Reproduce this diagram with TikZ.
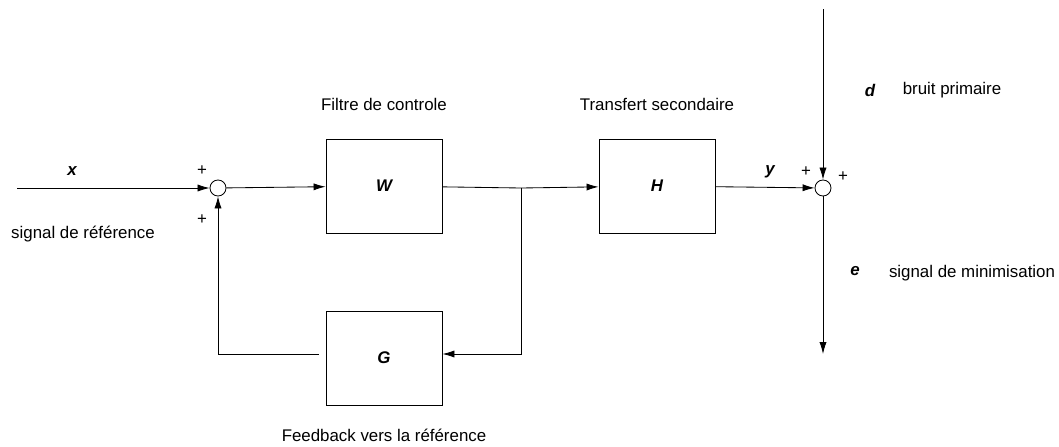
\documentclass[tikz,border=0pt]{standalone}
\usepackage{fontspec}
\setmainfont{Liberation Sans}
\usetikzlibrary{calc, arrows.meta}

\begin{document}
\begin{tikzpicture}[>={Latex[length=0.3cm,width=0.18cm]}, x=0.025cm, y=-0.025cm,
    line width=0.6pt, font=\fontsize{12}{14}\selectfont,
    bloc/.style={draw, minimum width=2.9cm, minimum height=2.35cm, inner sep=0pt},
    somme/.style={draw, circle, minimum size=0.4cm, inner sep=0pt},
    var/.style={font=\fontsize{12}{14}\selectfont\bfseries\itshape}]
        \useasboundingbox (0,0) rectangle (1059,447);

        % the blocks and the summing points
        \node[bloc] (boxW) at (384,186) {};
        \node[bloc] (boxH) at (657,186) {};
        \node[bloc] (boxG) at (384,358) {};
        \node[somme] (sumin) at (218,188) {};
        \node[somme] (sumout) at (823,188) {};
        \coordinate (in) at (17,188);
        \coordinate (branch) at (521,188);
        \coordinate (dist) at (823,9);
        \coordinate (err) at (823,354);

        % the arrows
        \draw[->] (in) -- (sumin);
        \draw[->] (sumin) -- (boxW);
        \draw (boxW) -- (branch);
        \draw[->] (branch) -- (boxH);
        \draw[->] (boxH) -- (sumout);
        \draw[->] (branch) |- (boxG.east |- err);
        \draw[->, shorten <=5pt] (boxG.west |- err) -| (sumin);
        \draw[->] (dist) -- (sumout);
        \draw[->] (sumout) -- (err);

        % the labels
        \node[var] (lx) at (72,171) {x};
        \node (pin1) at (202,171) {+};
        \node (pin2) at (202,220) {+};
        \node (lref) at (83,234) {signal de référence};
        \node (lW) at (boxW) {\bfseries\itshape W};
        \node (lH) at (boxH) {\bfseries\itshape H};
        \node (lG) at (boxG) {\bfseries\itshape G};
        \node (lfiltre) at (384,104) {Filtre de controle};
        \node (ltransf) at (657,104) {Transfert secondaire};
        \node (lfeed) at (384,435) {Feedback vers la référence};
        \node[var] (ly) at (770,172) {y};
        \node (pout1) at (806,172) {+};
        \node (pout2) at (843,177) {+};
        \node[var] (ld) at (870,90) {d};
        \node (lbruit) at (952,90) {bruit primaire};
        \node[var] (le) at (855,271) {e};
        \node (lmin) at (972,273) {signal de minimisation};
\end{tikzpicture}
\end{document}
